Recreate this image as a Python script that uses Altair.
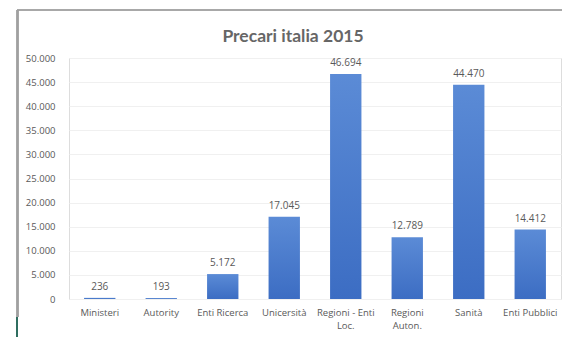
import altair as alt
import pandas as pd

categories = ["Ministeri", "Autority", "Enti Ricerca", "Unicersità", "Regioni - Enti Loc.",
              "Regioni Auton.", "Sanità", "Enti Pubblici"]
values = [236, 193, 5172, 17045, 46694, 12789, 44470, 14412]
y_ticks = [0, 5000, 10000, 15000, 20000, 25000, 30000, 35000, 40000, 45000, 50000]
title_text = "Precari italia 2015"

df = pd.DataFrame({"cat": categories, "val": values})

FONT = "Open Sans"
GRAY = "#595959"

label_expr = ("datum.label == 'Regioni - Enti Loc.' ? ['Regioni - Enti', 'Loc.'] : "
              "datum.label == 'Regioni Auton.' ? ['Regioni', 'Auton.'] : datum.label")

x = alt.X("cat:N", sort=categories, title=None,
          scale=alt.Scale(paddingInner=0.49, paddingOuter=0.245),
          axis=alt.Axis(labelAngle=0, labelExpr=label_expr, labelFont=FONT, labelFontSize=9.5,
                        labelColor=GRAY, domain=False, ticks=False, labelPadding=8,
                        labelLineHeight=13))
y = alt.Y("val:Q", title=None,
          scale=alt.Scale(domain=[0, 50000], nice=False),
          axis=alt.Axis(values=y_ticks, labelExpr="replace(format(datum.value, ','), ',', '.')",
                        labelFont=FONT, labelFontSize=9.5, labelColor=GRAY, domain=False,
                        ticks=False, labelPadding=14, labelOverlap=False,
                        gridColor="#f0f0f0", gridWidth=1))

base = alt.Chart(df)

bars = base.mark_bar(
    color=alt.Gradient(gradient="linear", x1=0, x2=0, y1=0, y2=1,
                       stops=[alt.GradientStop(color="#5b8bd6", offset=0),
                              alt.GradientStop(color="#3c6dc3", offset=1)])
).encode(x=x, y=y)

text = base.transform_calculate(
    lab="replace(format(datum.val, ','), ',', '.')"
).mark_text(baseline="bottom", dy=-6, font=FONT, fontSize=10, color=GRAY).encode(
    x=x, y=y, text="lab:N")

title_df = pd.DataFrame({"t": [title_text]})
title = alt.Chart(title_df).mark_text(
    font="Lato", fontSize=17.5, fontWeight="bold", color="#666666", align="center", baseline="middle"
).encode(x=alt.value(224), y=alt.value(-21), text="t:N")

frame_top = alt.Chart(df).mark_rule(color="#a8a8a8", strokeWidth=1.5).encode(
    x=alt.value(-52), x2=alt.value(493), y=alt.value(-48))
frame_left = alt.Chart(df).mark_rule(color="#a0a0a0", strokeWidth=1.5).encode(
    x=alt.value(-51.5), y=alt.value(-48), y2=alt.value(259))
frame_mark = alt.Chart(df).mark_rule(color="#2f6e60", strokeWidth=2).encode(
    x=alt.value(-52), y=alt.value(259), y2=alt.value(279))

chart = alt.layer(bars, text, title, frame_top, frame_left, frame_mark).properties(
    width=492, height=241,
    autosize=alt.AutoSizeParams(type="none"),
    padding={"left": 69, "top": 58, "right": 1, "bottom": 42},
).configure_view(stroke=None).configure(background="white")

chart.save("out.html", embed_options={"renderer": "svg", "actions": False})
